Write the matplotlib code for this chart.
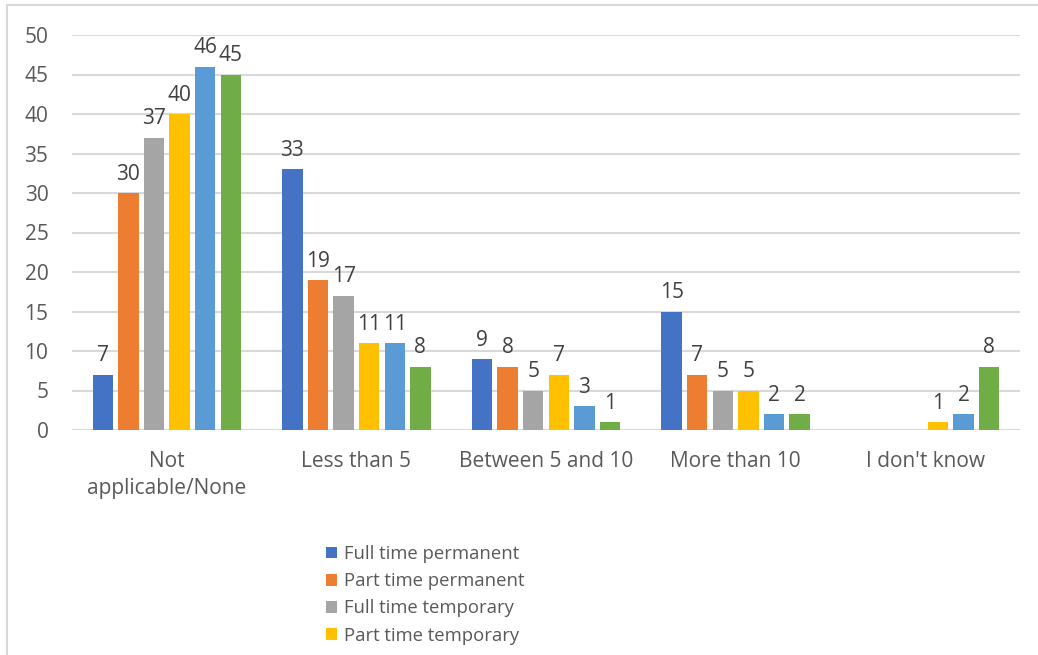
import numpy as np
import matplotlib.pyplot as plt
from matplotlib.patches import Patch, Rectangle

plt.rcParams['font.family'] = ['Open Sans', 'DejaVu Sans']

categories = ['Not\napplicable/None', 'Less than 5', 'Between 5 and 10', 'More than 10', "I don't know"]
series_names = ['Full time permanent', 'Part time permanent', 'Full time temporary',
                'Part time temporary', 'Full time casual', 'Part time casual']
full_perm = [7, 33, 9, 15, 0]
part_perm = [30, 19, 8, 7, 0]
full_temp = [37, 17, 5, 5, 0]
part_temp = [40, 11, 7, 5, 1]
full_casual = [46, 11, 3, 2, 2]
part_casual = [45, 8, 1, 2, 8]
yticks = [0, 5, 10, 15, 20, 25, 30, 35, 40, 45, 50]

series = [full_perm, part_perm, full_temp, part_temp, full_casual, part_casual]
colors = ['#4472C4', '#ED7D31', '#A5A5A5', '#FFC000', '#5B9BD5', '#70AD47']

W, H = 1038, 655
fig = plt.figure(figsize=(W / 100, H / 100), dpi=100)
ax = fig.add_axes([72 / W, 1 - 430 / H, 948 / W, 395 / H])

# outer chart frame (runs off the right and bottom)
fig.patches.append(Rectangle((7 / W, -0.1), 1.2, 1 - 5 / H + 0.1, transform=fig.transFigure,
                             fill=False, edgecolor='#D9D9D9', linewidth=1.5, zorder=0))

x = np.arange(len(categories))
pitch = 0.135
width = 0.108
for i, (vals, c) in enumerate(zip(series, colors)):
    pos = x + (i - 2.5) * pitch
    ax.bar(pos, vals, width=width, color=c, zorder=3)
    for xp, v in zip(pos, vals):
        if v > 0:
            ax.annotate(str(v), (xp, v), xytext=(0, 6), textcoords='offset points',
                        ha='center', va='bottom', fontsize=15, color='#404040')

ax.set_xlim(-0.5, len(categories) - 0.5)
ax.set_ylim(0, 50)
ax.set_yticks(yticks)
ax.set_xticks(x)
ax.set_xticklabels(categories, fontsize=15, color='#595959', linespacing=1.4)
ax.tick_params(axis='y', labelsize=15, labelcolor='#595959', length=0, pad=17)
ax.tick_params(axis='x', length=0, pad=15)
ax.grid(axis='y', color='#D9D9D9', linewidth=1.5, zorder=0)
for s in ax.spines.values():
    s.set_visible(False)

# only the first four legend rows fit above the bottom edge
handles = [Patch(facecolor=c, label=n) for c, n in zip(colors[:4], series_names[:4])]
fig.legend(handles=handles, loc='upper left', bbox_to_anchor=(326 / W, 1 - 545 / H),
           frameon=False, fontsize=13.3, labelcolor='#595959', handlelength=0.62,
           handleheight=0.62, handletextpad=0.35, labelspacing=0.5, borderaxespad=0,
           borderpad=0)

fig.savefig('out.png', dpi=100)
